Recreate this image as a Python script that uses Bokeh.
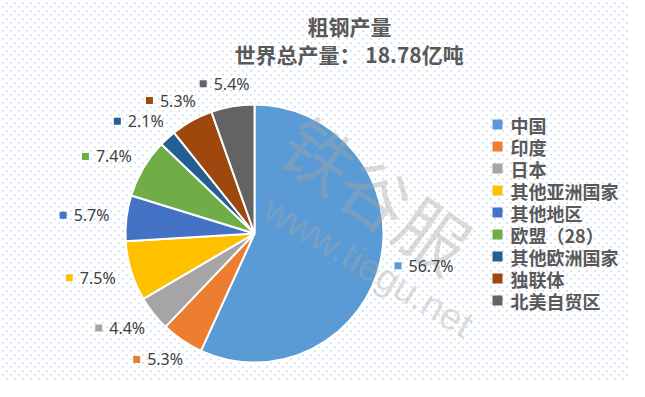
import numpy as np
from bokeh.plotting import figure
from bokeh.models import Range1d
from bokeh.core.properties import value
from bokeh.embed import file_html
from bokeh.resources import INLINE

# ---------------- data ----------------
categories = ["中国", "印度", "日本", "其他亚洲国家", "其他地区", "欧盟（28）", "其他欧洲国家", "独联体", "北美自贸区"]
shares = [56.7, 5.3, 4.4, 7.5, 5.7, 7.4, 2.1, 5.3, 5.4]
colors = ["#5B9BD5", "#ED7D31", "#A5A5A5", "#FFC000", "#4472C4", "#70AD47", "#255E91", "#9E480E", "#636363"]
title_text = "粗钢产量"
subtitle_text = "世界总产量：  18.78亿吨"
watermark_cn = "铁谷服"
watermark_url = "www.tiegu.net"

# ---------------- layout (reference pixel coordinates) ----------------
PW, PH = 629, 381
X0, Y0 = 0, 0
CX, CY, R = 254, 233, 129
CJK = "Noto Sans CJK SC"
LAT = "Noto Sans"

p = figure(width=PW, height=PH, output_backend="svg", toolbar_location=None,
           x_range=Range1d(X0, X0 + PW), y_range=Range1d(-(Y0 + PH), -Y0),
           min_border=0, x_axis_location=None, y_axis_location=None)
p.grid.visible = False
p.outline_line_color = None
p.background_fill_color = "white"
p.border_fill_color = "white"

# dotted background texture
rows = np.arange(PH)[:, None]
cols = np.arange(PW)[None, :]
Yp = (Y0 + PH - 1) - rows
Xp = X0 + cols
mask = ((Yp % 8 == 6) & (Xp % 8 == 2)) | ((Yp % 8 == 2) & (Xp % 8 == 6))
img = np.zeros((PH, PW), dtype=np.uint32)
view = img.view(dtype=np.uint8).reshape((PH, PW, 4))
view[mask] = [0x5B, 0x9B, 0xD5, 255]
p.image_rgba(image=[img], x=X0, y=-(Y0 + PH), dw=PW, dh=PH)

# pie slices, clockwise from 12 o'clock
vals = np.array(shares, dtype=float)
frac = vals / vals.sum()
cum_end = np.cumsum(frac)
cum_start = cum_end - frac
mid = (cum_start + cum_end) / 2
start_ang = np.pi / 2 - 2 * np.pi * cum_end
end_ang = np.pi / 2 - 2 * np.pi * cum_start
p.wedge(x=CX, y=-CY, radius=R, start_angle=start_ang, end_angle=end_ang,
        direction="anticlock", fill_color=colors, line_color="white", line_width=2)

# watermark
p.text(x=[377], y=[-192], text=[watermark_cn], angle=np.deg2rad(-35),
       text_font=value(CJK), text_font_size="70px", text_color="#a6a6a6", text_alpha=0.4,
       text_align="center", text_baseline="middle")
p.text(x=[368], y=[-266], text=[watermark_url], angle=np.deg2rad(-31),
       text_font=value("Liberation Sans"), text_font_size="38px", text_color="#a6a6a6", text_alpha=0.4,
       text_align="center", text_baseline="middle")

# data labels with colour key
def text_w(s, fs=16):
    wmap = {".": 0.27, "%": 0.84}
    return sum(wmap.get(ch, 0.572) for ch in s) * fs

labels = [f"{v:.1f}%" for v in shares]
ang = np.pi / 2 - 2 * np.pi * mid
RL = R + 15
sq_x, sq_y, tx, ty = [], [], [], []
for a, lab in zip(ang, labels):
    w = 16 + text_w(lab)
    px = CX + RL * np.cos(a)
    py = -CY + RL * np.sin(a)
    cx = px + w / 2 * np.cos(a)
    cy = py + 8 * np.sin(a)
    sq_x.append(cx - w / 2 + 3.5)
    sq_y.append(cy)
    tx.append(cx - w / 2 + 14)
    ty.append(cy)
p.scatter(x=sq_x, y=sq_y, marker="square", size=7, fill_color=colors, line_color=None)
p.text(x=tx, y=ty, text=labels, text_font=value(LAT), text_font_size="16px",
       text_color="#404040", text_align="left", text_baseline="middle")

# title
p.text(x=[349], y=[-25], text=[title_text], text_font=value(CJK), text_font_style="bold",
       text_font_size="21px", text_color="#595959", text_align="center", text_baseline="middle")
p.text(x=[351], y=[-53], text=[subtitle_text], text_font=value(CJK), text_font_style="bold",
       text_font_size="21px", text_color="#595959", text_align="center", text_baseline="middle")

# legend
ly = [-(124 + 22 * i) for i in range(len(categories))]
p.scatter(x=[497] * len(categories), y=ly, marker="square", size=10, fill_color=colors, line_color=None)
p.text(x=[510] * len(categories), y=ly, text=categories, text_font=value(CJK), text_font_style="bold",
       text_font_size="18px", text_color="#595959", text_align="left", text_baseline="middle")

open("out.html", "w").write(file_html(p, INLINE))
